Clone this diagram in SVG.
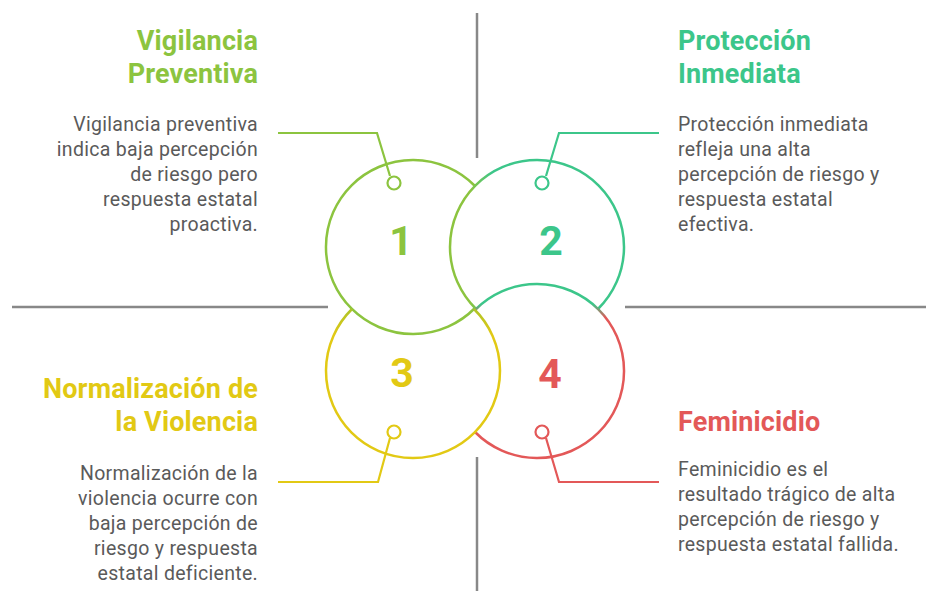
<svg xmlns="http://www.w3.org/2000/svg" width="928" height="591" viewBox="0 0 928 591">
<style>
.t{font-family:Roboto,"Liberation Sans",sans-serif;font-weight:700;font-size:27px;letter-spacing:0.15px}
.b{font-family:Roboto,"Liberation Sans",sans-serif;font-size:19.5px;letter-spacing:0.3px;fill:#5a5a5a}
.n{font-family:Roboto,"Liberation Sans",sans-serif;font-weight:700;font-size:41px;text-anchor:middle}
.r{text-anchor:end}
.ring{fill:none;stroke-width:2.5}
.pin{fill:#fff;stroke-width:2.2}
.ln{fill:none;stroke-width:2.2}
.axis{stroke:#888;stroke-width:2.5}
</style>
<defs>
<linearGradient id="g2" gradientUnits="userSpaceOnUse" x1="470" y1="0" x2="492" y2="0">
<stop offset="0" stop-color="#8cc43f"/><stop offset="1" stop-color="#3cc68a"/>
</linearGradient>
<linearGradient id="g4" gradientUnits="userSpaceOnUse" x1="0" y1="304" x2="0" y2="318">
<stop offset="0" stop-color="#3cc68a"/><stop offset="1" stop-color="#e35858"/>
</linearGradient>
<linearGradient id="g3" gradientUnits="userSpaceOnUse" x1="0" y1="306" x2="0" y2="335">
<stop offset="0" stop-color="#a8c32a"/><stop offset="1" stop-color="#e2c914"/>
</linearGradient>
</defs>
<g id="axes">
<line class="axis" x1="477" y1="13" x2="477" y2="158"/>
<line class="axis" x1="477" y1="457" x2="477" y2="591"/>
<line class="axis" x1="12" y1="307" x2="328" y2="307"/>
<line class="axis" x1="625" y1="307" x2="926" y2="307"/>
</g>
<g id="connectors">
<path class="ln" stroke="#8cc43f" d="M278,133 H377 L390,176"/>
<path class="ln" stroke="#3cc68a" d="M659,133 H559 L546,176"/>
<path class="ln" stroke="#e2c914" d="M278,482 H378 L390,438"/>
<path class="ln" stroke="#e35858" d="M659,482 H559 L546,438"/>
</g>
<g id="node1">
<path class="ring" stroke="#8cc43f" d="M475,186 A87,87 0 1 0 475,308"/>
<circle class="pin" stroke="#8cc43f" cx="394" cy="183" r="6.5"/>
<text class="n" fill="#8cc43f" x="401" y="255">1</text>
<text class="t r" fill="#8cc43f" x="258" y="50">Vigilancia</text>
<text class="t r" fill="#8cc43f" x="258" y="83">Preventiva</text>
<text class="b r" x="258" y="131">Vigilancia preventiva</text>
<text class="b r" x="258" y="156">indica baja percepción</text>
<text class="b r" x="258" y="181">de riesgo pero</text>
<text class="b r" x="258" y="206">respuesta estatal</text>
<text class="b r" x="258" y="231">proactiva.</text>
</g>
<g id="node2">
<path class="ring" stroke="url(#g2)" d="M476,309 A87,87 0 1 1 598,309"/>
<circle class="pin" stroke="#3cc68a" cx="542" cy="183" r="6.5"/>
<text class="n" fill="#3cc68a" x="551" y="255">2</text>
<text class="t" fill="#3cc68a" x="678" y="50">Protección</text>
<text class="t" fill="#3cc68a" x="678" y="83">Inmediata</text>
<text class="b" x="678" y="131">Protección inmediata</text>
<text class="b" x="678" y="156">refleja una alta</text>
<text class="b" x="678" y="181">percepción de riesgo y</text>
<text class="b" x="678" y="206">respuesta estatal</text>
<text class="b" x="678" y="231">efectiva.</text>
</g>
<g id="node4">
<path class="ring" stroke="url(#g4)" d="M475,310 A87,87 0 1 1 475,432"/>
<circle class="pin" stroke="#e35858" cx="542" cy="432" r="6.5"/>
<text class="n" fill="#e35858" x="550" y="388">4</text>
<text class="t" fill="#e35858" x="678" y="431">Feminicidio</text>
<text class="b" x="678" y="476">Feminicidio es el</text>
<text class="b" x="678" y="501">resultado trágico de alta</text>
<text class="b" x="678" y="526">percepción de riesgo y</text>
<text class="b" x="678" y="551">respuesta estatal fallida.</text>
</g>
<g id="node3">
<path class="ring" stroke="url(#g3)" d="M474,309 A87,87 0 1 1 352,309"/>
<circle class="pin" stroke="#e2c914" cx="394" cy="432" r="6.5"/>
<text class="n" fill="#e2c914" x="402" y="387">3</text>
<text class="t r" fill="#e2c914" x="258" y="398">Normalización de</text>
<text class="t r" fill="#e2c914" x="258" y="431">la Violencia</text>
<text class="b r" x="258" y="480">Normalización de la</text>
<text class="b r" x="258" y="505">violencia ocurre con</text>
<text class="b r" x="258" y="530">baja percepción de</text>
<text class="b r" x="258" y="555">riesgo y respuesta</text>
<text class="b r" x="258" y="580">estatal deficiente.</text>
</g>
</svg>
